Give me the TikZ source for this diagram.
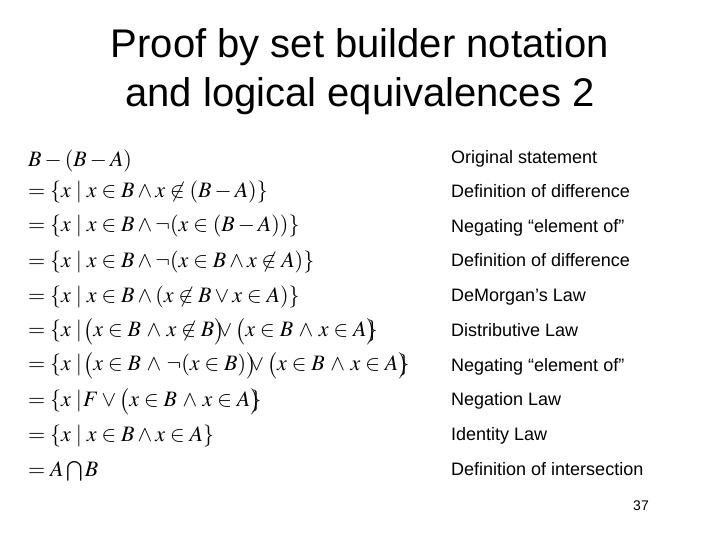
\documentclass[tikz,border=0pt]{standalone}
\usepackage{amsmath}
\usepackage{amssymb}
\usepackage{mathptmx}
\usepackage[no-math]{fontspec}
\setmainfont{Liberation Sans}
\usepackage{tikz}
\newcommand{\nel}{\not\in}
\newcommand{\ovl}{\mkern-8mu}
\newcommand{\tgt}{\mkern-3mu}
\newcommand{\wdg}{\,\wedge\,}
\tikzset{
    titletext/.style={font=\fontsize{40}{49}\selectfont, align=center},
    mathline/.style={anchor=base west, font=\fontsize{22}{26}\selectfont, inner sep=0pt},
    reasontext/.style={anchor=base west, font=\fontsize{18}{20}\selectfont, inner sep=0pt},
    pagenum/.style={anchor=base east, font=\fontsize{14}{16}\selectfont, inner sep=0pt}
}

\begin{document}
\begin{tikzpicture}[x=1pt,y=1pt]

    \useasboundingbox (0,0) rectangle (720,540);

    \node[titletext] (title) at (360,468) {Proof by set builder notation\\and logical equivalences 2};

    \node[mathline] (m1)  at (28,373) {$B-(B-A)$};
    \node[mathline] (m2)  at (28,342) {$=\{x\mid x\in B\wedge x\nel(B-A)\}$};
    \node[mathline] (m3)  at (28,308) {$=\{x\mid x\in B\wedge\neg(x\in(B-A))\}$};
    \node[mathline] (m4)  at (28,272) {$=\{x\mid x\in B\wedge\neg(x\in B\wedge x\nel A)\}$};
    \node[mathline] (m5)  at (28,237) {$=\{x\mid x\in B\wedge(x\nel B\vee x\in A)\}$};
    \node[mathline] (m6)  at (28,203) {$=\{x\mid\tgt\bigl(x\in B\wdg x\nel B\bigr)\ovl\vee\bigl(x\in B\wdg x\in A\bigr)\ovl\}$};
    \node[mathline] (m7)  at (28,169) {$=\{x\mid\tgt\bigl(x\in B\wdg\neg(x\in B)\bigr)\ovl\vee\bigl(x\in B\wdg x\in A\bigr)\ovl\}$};
    \node[mathline] (m8)  at (28,133) {$=\{x\mid\tgt F\vee\bigl(x\in B\wdg x\in A\bigr)\ovl\}$};
    \node[mathline] (m9)  at (28,98)  {$=\{x\mid x\in B\wedge x\in A\}$};
    \node[mathline] (m10) at (28,63)  {$=A\bigcap B$};

    \node[reasontext] (r1)  at (451,376) {Original statement};
    \node[reasontext] (r2)  at (451,342) {Definition of difference};
    \node[reasontext] (r3)  at (451,307) {Negating “element of”};
    \node[reasontext] (r4)  at (451,273) {Definition of difference};
    \node[reasontext] (r5)  at (451,238) {DeMorgan’s Law};
    \node[reasontext] (r6)  at (451,203) {Distributive Law};
    \node[reasontext] (r7)  at (451,168) {Negating “element of”};
    \node[reasontext] (r8)  at (451,134) {Negation Law};
    \node[reasontext] (r9)  at (451,99)  {Identity Law};
    \node[reasontext] (r10) at (451,64)  {Definition of intersection};

    \node[pagenum] (page) at (649,29) {37};

\end{tikzpicture}
\end{document}
